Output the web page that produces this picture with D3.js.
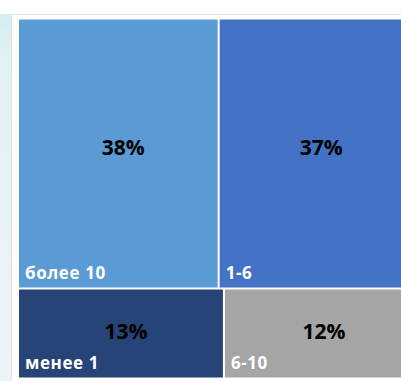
<!DOCTYPE html>
<html>
<head>
<meta charset="utf-8">
<script src="https://cdn.jsdelivr.net/npm/d3@7"></script>
<style>
  body { margin: 0; background: #fff; }
  svg { display: block; }
</style>
</head>
<body>
<div id="chart"></div>
<script>
// experience groups, two rows as in the original treemap
var topRow = ["более 10", "1-6"];
var topValues = [38, 37];
var bottomRow = ["менее 1", "6-10"];
var bottomValues = [13, 12];
var colors = ["#5B9BD5", "#4472C4", "#264478", "#A5A5A5"];

var width = 401, height = 381;

var svg = d3.select("#chart").append("svg")
    .attr("width", width)
    .attr("height", height);

// slide background strip on the left
var grad = svg.append("defs").append("linearGradient")
    .attr("id", "bg").attr("x1", 0).attr("y1", 0).attr("x2", 0).attr("y2", 1);
grad.append("stop").attr("offset", "0%").attr("stop-color", "#d3edf0");
grad.append("stop").attr("offset", "12%").attr("stop-color", "#e2f1f3");
grad.append("stop").attr("offset", "100%").attr("stop-color", "#eef3f6");
svg.append("rect")
    .attr("x", 0).attr("y", 14).attr("width", 12).attr("height", height - 14)
    .attr("fill", "url(#bg)");

// chart panel
svg.append("rect")
    .attr("x", 11.5).attr("y", 14.5).attr("width", width).attr("height", height)
    .attr("fill", "#fff").attr("stroke", "#e3e3e3");

var data = {
  children: [
    { children: topRow.map(function(d, i) { return { name: d, value: topValues[i], color: colors[i] }; }) },
    { children: bottomRow.map(function(d, i) { return { name: d, value: bottomValues[i], color: colors[i + 2] }; }) }
  ]
};

var root = d3.hierarchy(data)
    .sum(function(d) { return d.value || 0; });

// rows first, then split each row left to right
d3.treemap()
    .tile(function(node, x0, y0, x1, y1) {
      (node.depth ? d3.treemapDice : d3.treemapSlice)(node, x0, y0, x1, y1);
    })
    .size([394, 358])
    .paddingInner(2)
    (root);

var g = svg.append("g").attr("transform", "translate(19,19.5)");

var cell = g.selectAll("g.cell")
    .data(root.leaves())
    .enter().append("g")
    .attr("class", "cell");

cell.append("rect")
    .attr("x", function(d) { return d.x0; })
    .attr("y", function(d) { return d.y0; })
    .attr("width", function(d) { return d.x1 - d.x0; })
    .attr("height", function(d) { return d.y1 - d.y0; })
    .attr("fill", function(d) { return d.data.color; });

cell.append("text")
    .attr("x", function(d) { return d.x0 + 6; })
    .attr("y", function(d) { return d.y1 - 9; })
    .attr("fill", "#fff")
    .style("font-family", "'Open Sans', sans-serif")
    .style("font-weight", "bold")
    .style("font-size", "17px")
    .style("letter-spacing", "0.6px")
    .text(function(d) { return d.data.name; });

cell.append("text")
    .attr("x", function(d) { return (d.x0 + d.x1) / 2 + 5; })
    .attr("y", function(d) { return d.y0 < 10 ? (d.y0 + d.y1) / 2 + 1 : (d.y0 + d.y1) / 2 + 5.5; })
    .attr("text-anchor", "middle")
    .attr("fill", "#000")
    .style("font-family", "'Open Sans', sans-serif")
    .style("font-weight", "bold")
    .style("font-size", "21px")
    .text(function(d) { return d.data.value + "%"; });
</script>
</body>
</html>
